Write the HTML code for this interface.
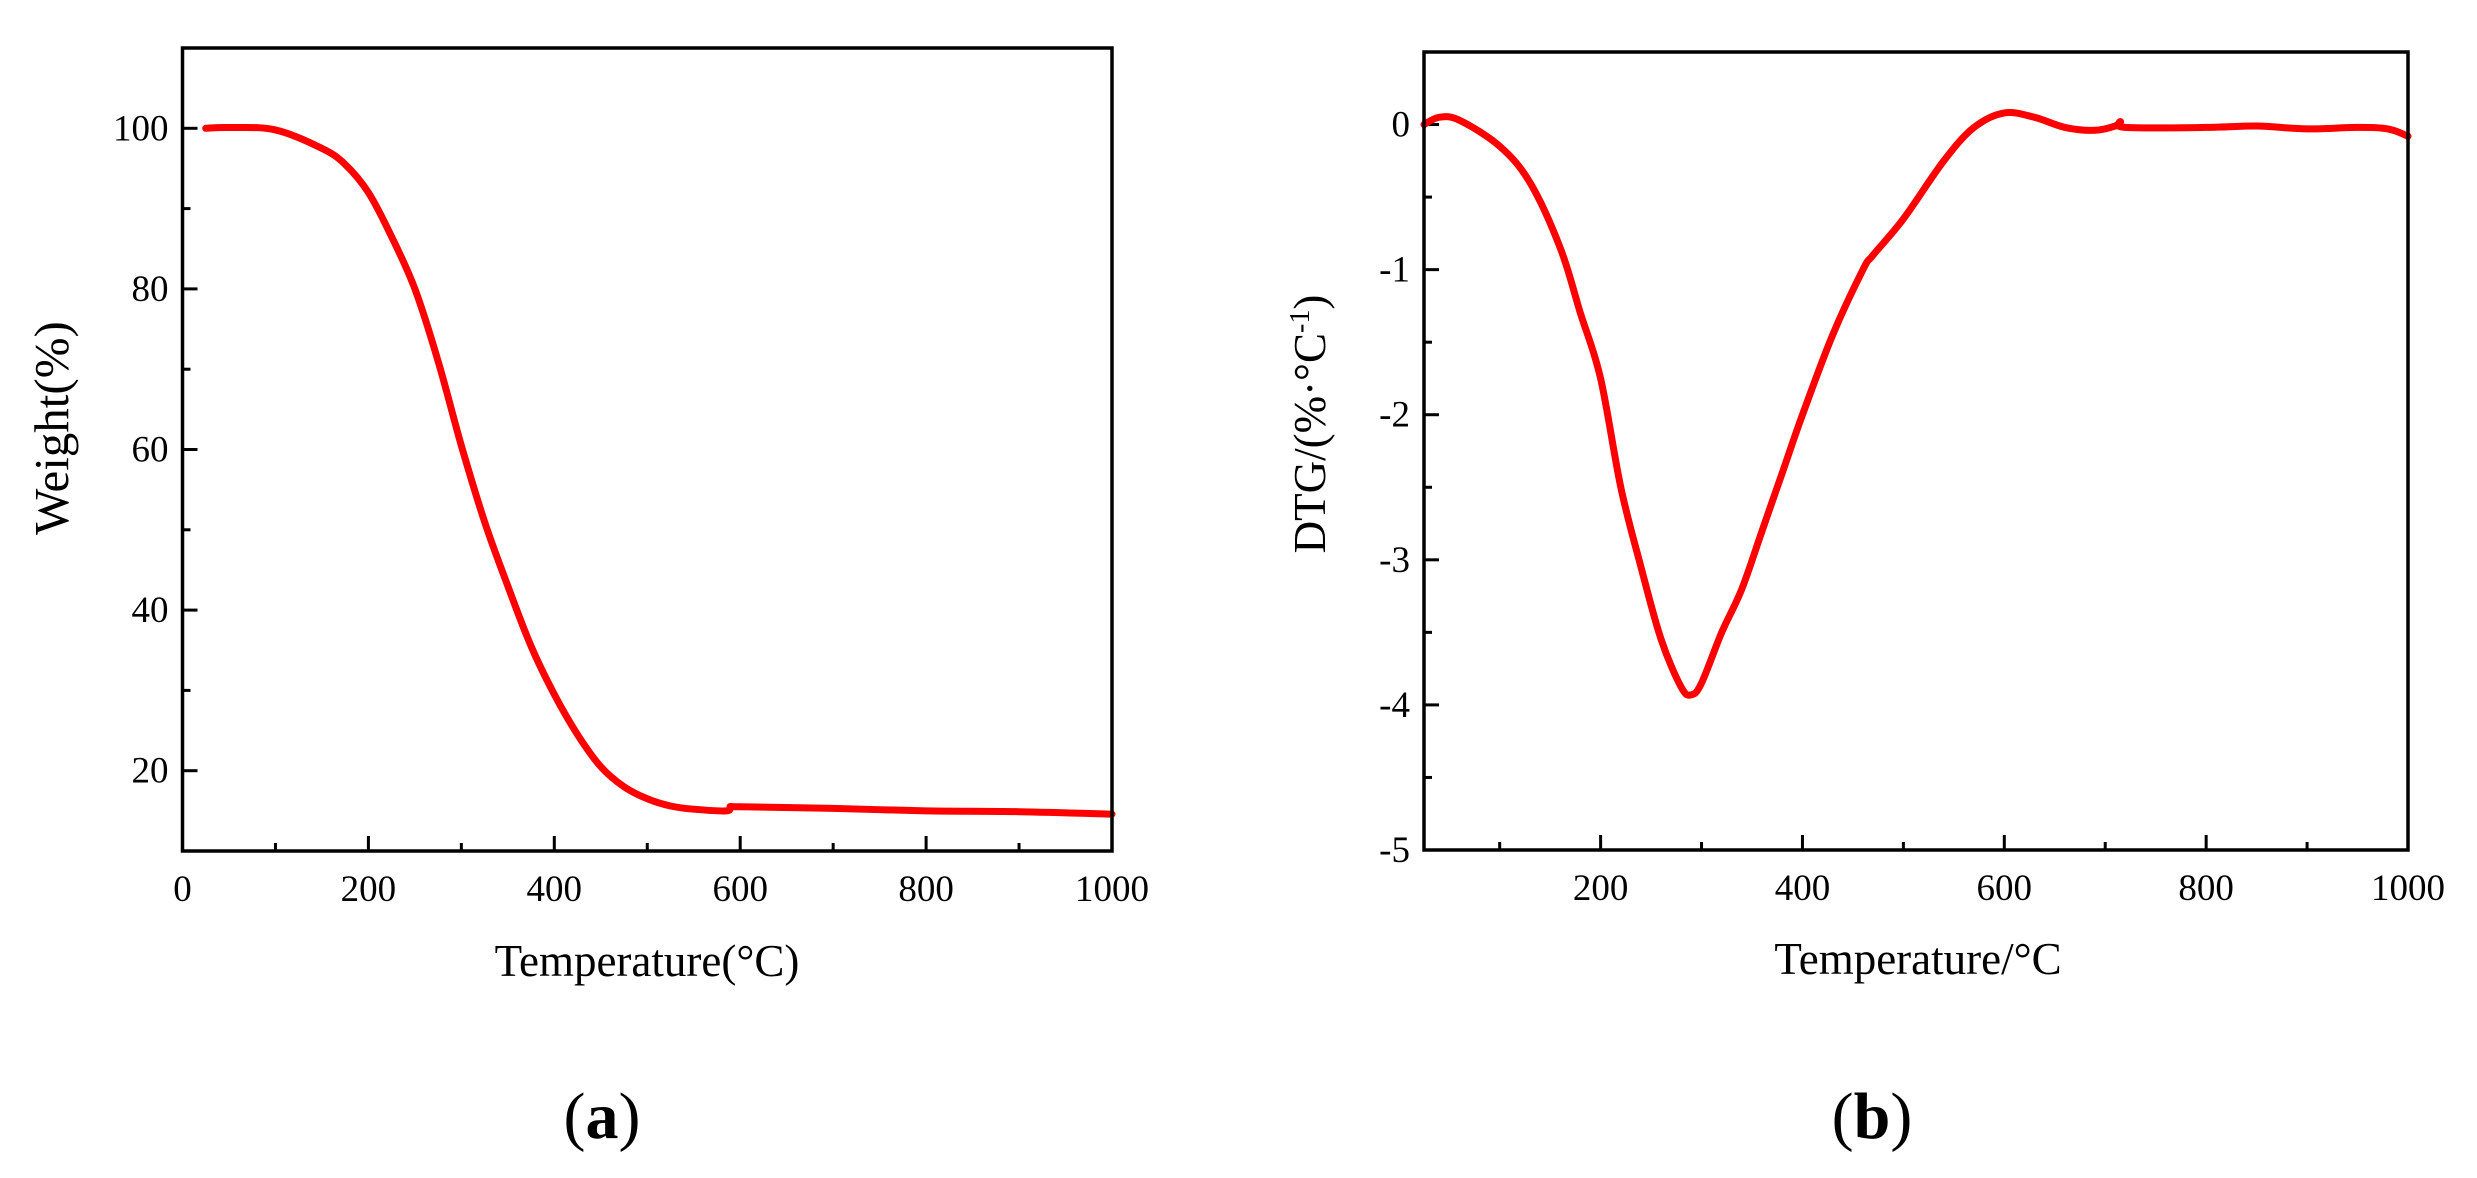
<!DOCTYPE html>
<html><head><meta charset="utf-8"><style>
html,body{margin:0;padding:0;background:#fff}
svg{display:block;font-family:"Liberation Serif",serif}
</style></head><body>
<svg id="c" width="2477" height="1178" viewBox="0 0 2477 1178" xmlns="http://www.w3.org/2000/svg"></svg>
<script>
const tgaT=[25,50,100,150,175,200,225,250,275,300,325,350,375,400,425,450,475,500,525,550,585,590,600,700,800,900,1000];
const tgaW=[100,100.1,99.8,97.5,95.5,92,86.5,80,71,60.5,51,43,35.5,29.5,24.5,20.5,18,16.5,15.6,15.2,15.0,15.5,15.5,15.3,15.0,14.9,14.6];
const dtgT=[25,40,60,100,130,160,180,200,220,240,260,280,290,300,320,340,360,380,400,430,460,470,500,540,570,600,630,660,690,710,715,720,800,850,900,950,980,1000];
const dtgV=[0.0,0.05,0.03,-0.15,-0.4,-0.85,-1.3,-1.75,-2.5,-3.05,-3.55,-3.88,-3.93,-3.85,-3.5,-3.2,-2.8,-2.4,-2.0,-1.45,-1.0,-0.9,-0.65,-0.25,-0.02,0.08,0.05,-0.02,-0.04,-0.01,0.02,-0.02,-0.02,-0.01,-0.03,-0.02,-0.03,-0.08];
const aXTicks=[0,200,400,600,800,1000];
const aYTicks=[20,40,60,80,100];
const bXTicks=[200,400,600,800,1000];
const bYTicks=[0,-1,-2,-3,-4,-5];
const NS="http://www.w3.org/2000/svg";
const svg=document.getElementById('c');
function mk(tag,attrs,parent){const e=document.createElementNS(NS,tag);for(const k in attrs)e.setAttribute(k,attrs[k]);(parent||svg).appendChild(e);return e;}
function smooth(pts){
  let d='M'+pts[0][0].toFixed(1)+','+pts[0][1].toFixed(1);
  for(let i=0;i<pts.length-1;i++){
    const p0=pts[Math.max(0,i-1)],p1=pts[i],p2=pts[i+1],p3=pts[Math.min(pts.length-1,i+2)];
    const c1x=p1[0]+(p2[0]-p0[0])/6,c1y=p1[1]+(p2[1]-p0[1])/6;
    const c2x=p2[0]-(p3[0]-p1[0])/6,c2y=p2[1]-(p3[1]-p1[1])/6;
    d+=' C'+c1x.toFixed(1)+','+c1y.toFixed(1)+' '+c2x.toFixed(1)+','+c2y.toFixed(1)+' '+p2[0].toFixed(1)+','+p2[1].toFixed(1);
  }
  return d;
}
function panel(o){
  const g=mk('g',{});
  
  
  const sx=v=>o.L+(v-o.x0)/(o.x1-o.x0)*(o.R-o.L);
  const sy=v=>o.B-(v-o.y0)/(o.y1-o.y0)*(o.B-o.T);
  for(let v=o.xMinorStart;v<=o.x1+1e-9;v+=o.xMinor){
    const major=Math.abs(v/o.xMajor-Math.round(v/o.xMajor))<1e-6;
    const t=mk('line',{x1:sx(v),x2:sx(v),y1:o.B,y2:o.B-(major?15:8),stroke:'#000','stroke-width':3},g);
    
    
  }
  for(let v=o.yMinorStart;v<=o.y1+1e-9;v+=o.yMinor){
    const major=Math.abs(v/o.yMajor-Math.round(v/o.yMajor))<1e-6;
    const t=mk('line',{x1:o.L,x2:o.L+(major?15:8),y1:sy(v),y2:sy(v),stroke:'#000','stroke-width':3},g);
    
    
  }
  o.xt.forEach(v=>{const t=mk('text',{x:sx(v),y:o.B+50,'text-anchor':'middle','font-size':37},g);t.textContent=v;
    
    });
  o.yt.forEach(v=>{const t=mk('text',{x:o.L-14,y:sy(v)+12,'text-anchor':'end','font-size':37},g);t.textContent=v;
    
    });
  const pts=o.xs.map((x,i)=>[sx(x),sy(o.ys[i])]);
  const p=mk('path',{d:smooth(pts),fill:'none',stroke:'#ff0000','stroke-width':7,'stroke-linejoin':'round','stroke-linecap':'round'},g);
  
  
  const r=mk('rect',{x:o.L,y:o.T,width:o.R-o.L,height:o.B-o.T,fill:'none',stroke:'#000','stroke-width':3.5},g);
  
  
}
panel({name:'panel-a',L:182.5,R:1112,T:48,B:851,x0:0,x1:1000,y0:10,y1:110,xMinor:100,xMajor:200,xMinorStart:0,yMinor:10,yMajor:20,yMinorStart:10,xt:aXTicks,yt:aYTicks,xs:tgaT,ys:tgaW});
panel({name:'panel-b',L:1424,R:2408,T:52,B:850,x0:25,x1:1000,y0:-5,y1:0.5,xMinor:100,xMajor:200,xMinorStart:100,yMinor:0.5,yMajor:1,yMinorStart:-5,xt:bXTicks,yt:bYTicks,xs:dtgT,ys:dtgV});
</script>
<div style="position:absolute;left:0;top:0;width:2477px;height:1178px;pointer-events:none">
<svg width="2477" height="1178" style="position:absolute;left:0;top:0;font-family:'Liberation Serif',serif">
<text x="647" y="976" text-anchor="middle" font-size="45">Temperature(°C)</text>
<text transform="translate(68,428) rotate(-90)" text-anchor="middle" font-size="49">Weight(%)</text>
<text x="602" y="1138" text-anchor="middle" font-size="66"><tspan>(</tspan><tspan font-weight="bold">a</tspan><tspan>)</tspan></text>
<text x="1918" y="974" text-anchor="middle" font-size="45">Temperature/°C</text>
<text transform="translate(1325,424) rotate(-90)" text-anchor="middle" font-size="45">DTG/(%·°C<tspan font-size="28" dy="-16">-1</tspan><tspan dy="16">)</tspan></text>
<text x="1872" y="1138" text-anchor="middle" font-size="66"><tspan>(</tspan><tspan font-weight="bold">b</tspan><tspan>)</tspan></text>
</svg></div>
</body></html>
